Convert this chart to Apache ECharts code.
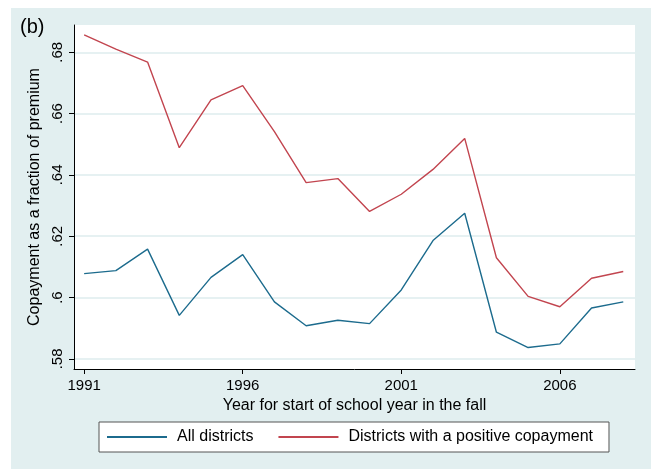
<!DOCTYPE html>
<html>
<head>
<meta charset="utf-8">
<script src="https://cdn.jsdelivr.net/npm/echarts@6/dist/echarts.min.js"></script>
<style>
	html, body { margin: 0; padding: 0; background: #fff; }
	#chart { width: 655px; height: 469px; }
</style>
</head>
<body>
<div id="chart"></div>
<script>
	// years 1991..2008
	var years = [1991, 1992, 1993, 1994, 1995, 1996, 1997, 1998, 1999, 2000,
		2001, 2002, 2003, 2004, 2005, 2006, 2007, 2008];
	var allDistricts = [.6078, .6088, .6158, .5942, .6066, .6140, .5986, .5908, .5926, .5915,
		.6025, .6186, .6275, .5887, .5837, .5849, .5966, .5986];
	var positiveCopay = [.6857, .6810, .6768, .6489, .6645, .6691, .6541, .6375, .6388, .6281,
		.6337, .6418, .6519, .6130, .6004, .5970, .6063, .6085];
	var xTicks = [1991, 1996, 2001, 2006];
	var yTicks = [.58, .60, .62, .64, .66, .68];

	var font = 'Liberation Sans, Arial, Helvetica, sans-serif';

	function pairs(vals) {
		var out = [];
		for (var i = 0; i < years.length; i++) {
			out.push([years[i], vals[i]]);
		}
		return out;
	}

	var chart = echarts.init(document.getElementById('chart'), null, { renderer: 'canvas' });
	var option = {
		animation: false,
		backgroundColor: '#fff',
		graphic: [{
			type: 'rect',
			z: -10,
			shape: { x: 11, y: 8, width: 640, height: 461 },
			style: { fill: '#e2eff0' }
		}, {
			type: 'text',
			left: 20,
			top: 17,
			style: { text: '(b)', font: '20px ' + font, fill: '#000' }
		}],
		grid: {
			left: 74,
			right: 20,
			top: 25,
			bottom: 100,
			show: true,
			backgroundColor: '#fff',
			borderWidth: 0
		},
		legend: {
			left: 99,
			top: 422,
			padding: [7, 16, 7, 8],
			icon: 'rect',
			itemWidth: 60,
			itemHeight: 2,
			itemGap: 25,
			backgroundColor: '#fff',
			borderColor: '#555',
			borderWidth: 1,
			borderRadius: 0,
			textStyle: { fontFamily: font, fontSize: 16, color: '#000', padding: [0, 0, 0, 5] },
			data: ['All districts', 'Districts with a positive copayment']
		},
		xAxis: {
			type: 'value',
			min: 1990.68,
			max: 2008.37,
			name: 'Year for start of school year in the fall',
			nameLocation: 'middle',
			nameGap: 26,
			nameTextStyle: { fontFamily: font, fontSize: 16, color: '#000' },
			axisLine: { show: true, lineStyle: { color: '#000', width: 1 } },
			axisTick: { show: true, length: 5, customValues: xTicks, lineStyle: { color: '#000' } },
			axisLabel: {
				customValues: xTicks,
				fontFamily: font,
				fontSize: 15,
				color: '#000',
				margin: 9,
				formatter: function(v) {
					return String(v);
				}
			},
			splitLine: { show: false }
		},
		yAxis: {
			type: 'value',
			min: .5767,
			max: .6889,
			name: 'Copayment as a fraction of premium',
			nameLocation: 'middle',
			nameGap: 25,
			nameTextStyle: { fontFamily: font, fontSize: 16, color: '#000' },
			axisLine: { show: true, lineStyle: { color: '#000', width: 1 } },
			axisTick: { show: true, length: 5, customValues: yTicks, lineStyle: { color: '#000' } },
			axisLabel: {
				customValues: yTicks,
				rotate: 90,
				fontFamily: font,
				fontSize: 15,
				color: '#000',
				margin: 9,
				formatter: function(v) {
					return String(+v.toFixed(2)).replace(/^0/, '');
				}
			},
			splitLine: { show: true, lineStyle: { color: '#deecee', width: 1.5 } }
		},
		series: [{
			name: 'All districts',
			type: 'line',
			symbol: 'none',
			data: pairs(allDistricts),
			lineStyle: { color: '#1c6b8d', width: 1.4 },
			itemStyle: { color: '#1c6b8d' }
		}, {
			name: 'Districts with a positive copayment',
			type: 'line',
			symbol: 'none',
			data: pairs(positiveCopay),
			lineStyle: { color: '#c2454f', width: 1.4 },
			itemStyle: { color: '#c2454f' }
		}]
	};
	chart.setOption(option);
</script>
</body>
</html>
